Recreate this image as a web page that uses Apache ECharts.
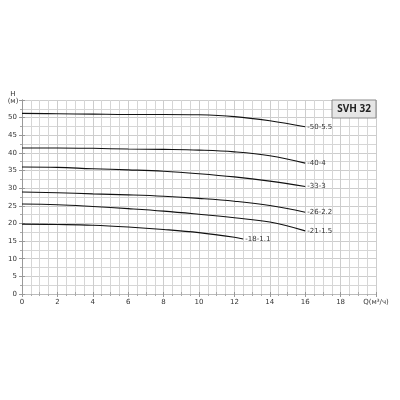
<!DOCTYPE html>
<html><head><meta charset="utf-8">
<script src="https://cdn.jsdelivr.net/npm/echarts@6/dist/echarts.min.js"></script>
<style>html,body{margin:0;padding:0;background:#fff}#c{width:400px;height:400px}</style>
</head><body><div id="c"></div>
<script>
const flow = [0, 2, 4, 6, 8, 10, 12, 14, 16];
const flow18 = [0, 2, 4, 6, 8, 10, 12, 12.5];
const h50 = [51.2, 51.1, 51.0, 50.9, 50.9, 50.8, 50.3, 49.1, 47.4];
const h40 = [41.4, 41.4, 41.3, 41.1, 41.0, 40.8, 40.3, 39.2, 37.1];
const h33 = [36.0, 35.9, 35.5, 35.2, 34.8, 34.1, 33.2, 32.0, 30.5];
const h26 = [28.9, 28.7, 28.4, 28.1, 27.7, 27.1, 26.3, 25.1, 23.2];
const h21 = [25.5, 25.3, 24.8, 24.2, 23.5, 22.6, 21.6, 20.4, 17.9];
const h18 = [19.8, 19.7, 19.5, 19.0, 18.3, 17.4, 16.1, 15.6];
const names = ['-50-5.5', '-40-4', '-33-3', '-26-2.2', '-21-1.5', '-18-1.1'];
const title = 'SVH 32';
const xName = 'Q(м³/ч)';
const yName = 'H\n(м)';

const sets = [[flow,h50],[flow,h40],[flow,h33],[flow,h26],[flow,h21],[flow18,h18]];
const chart = echarts.init(document.getElementById('c'), null, {renderer:'canvas'});
const font = 'DejaVu Sans';
chart.setOption({
  animation:false,
  grid:{left:22,right:24,top:100,bottom:106},
  xAxis:[{type:'value',min:0,max:20,interval:2,
    axisLine:{show:true,lineStyle:{color:'#999',width:1}},
    axisTick:{show:true,length:3,lineStyle:{color:'#999'}},
    minorTick:{show:true,splitNumber:4,length:2,lineStyle:{color:'#aaa'}},
    splitLine:{show:true,lineStyle:{color:'#cdcdcd',width:1}},
    minorSplitLine:{show:true,lineStyle:{color:'#d6d6d6',width:1}},
    axisLabel:{fontSize:7,color:'#333',fontFamily:font,margin:5,
      formatter:v=>v===20?xName:String(v)}},
   {type:'value',min:0,max:20,interval:2,position:'top',
    axisLine:{show:true,lineStyle:{color:'#bbb'}},
    axisTick:{show:true,length:2,lineStyle:{color:'#999'}},
    minorTick:{show:true,splitNumber:2,length:2,lineStyle:{color:'#aaa'}},
    axisLabel:{show:false},splitLine:{show:false}}],
  yAxis:[{type:'value',min:0,max:55,interval:5,
    axisLine:{show:true,lineStyle:{color:'#999'}},
    axisTick:{show:true,length:3,lineStyle:{color:'#999'}},
    minorTick:{show:true,splitNumber:2,length:2,lineStyle:{color:'#aaa'}},
    splitLine:{show:true,lineStyle:{color:'#cdcdcd'}},
    minorSplitLine:{show:true,lineStyle:{color:'#d6d6d6'}},
    axisLabel:{fontSize:7,color:'#333',fontFamily:font,margin:5,
      formatter:v=>v===55?'':String(v)}},
   {type:'value',min:0,max:55,interval:5,position:'right',
    axisLine:{show:true,lineStyle:{color:'#999'}},
    axisTick:{show:true,inside:false,length:3,lineStyle:{color:'#999'}},
    axisLabel:{show:false},splitLine:{show:false}}],
  series:sets.map((s,i)=>({type:'line',smooth:0.4,symbol:'none',
    data:s[0].map((q,j)=>[q,s[1][j]]),
    lineStyle:{color:'#111',width:1.1},
    endLabel:{show:true,formatter:names[i],fontSize:7,color:'#333',fontFamily:font,distance:2}})),
  graphic:[{type:'rect',shape:{x:332,y:100,width:44,height:18},
      style:{fill:'#e6e6e6',stroke:'#8a8a8a',lineWidth:1},z:10},
    {type:'text',x:354,y:109,z:11,style:{text:title,fontSize:10,fontWeight:'bold',
      fill:'#222',fontFamily:'Open Sans',align:'center',verticalAlign:'middle'}},
    {type:'text',x:13,y:98,z:11,style:{text:yName,fontSize:7,lineHeight:7,
      fill:'#333',fontFamily:font,align:'center',verticalAlign:'middle'}}]
});
</script></body></html>
